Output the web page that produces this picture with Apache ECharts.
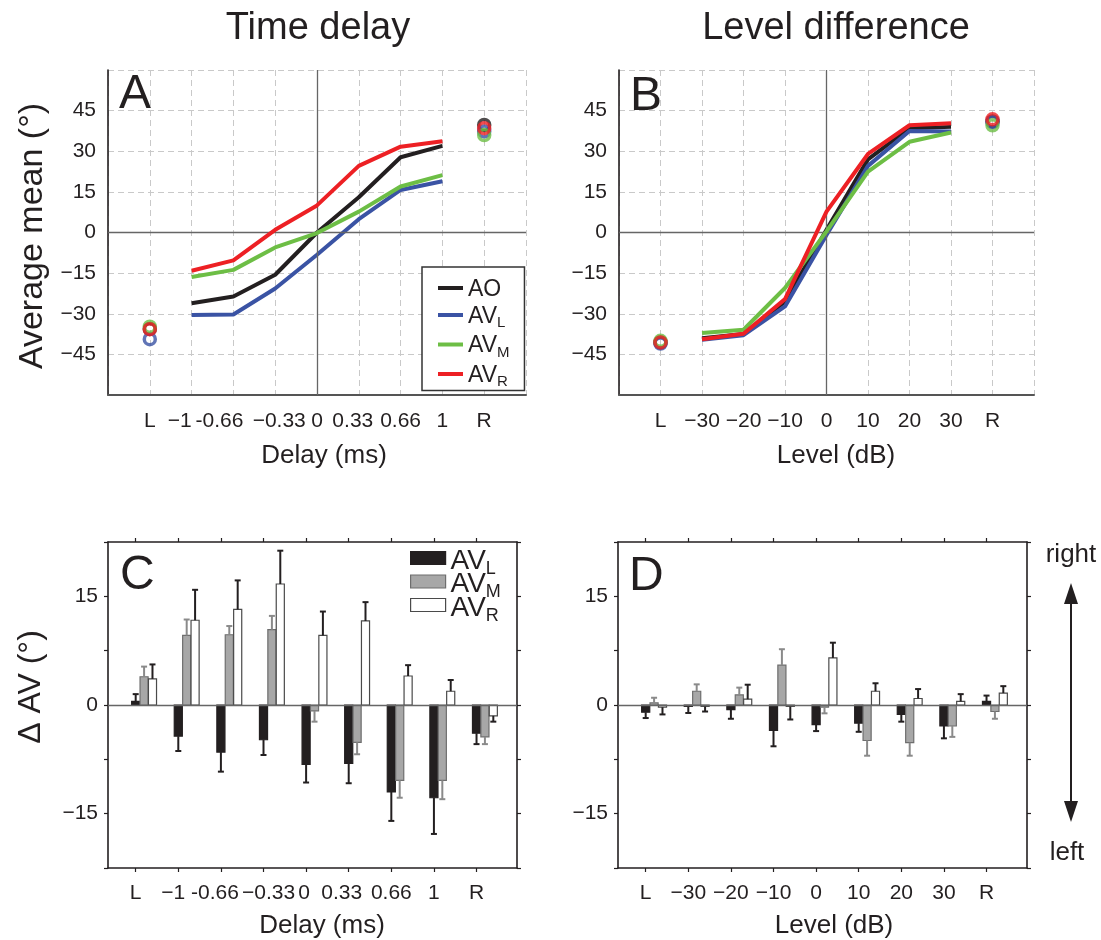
<!DOCTYPE html>
<html>
<head>
<meta charset="utf-8">
<script src="https://cdn.jsdelivr.net/npm/echarts@6/dist/echarts.min.js"></script>
<style>
  html, body { margin: 0; background: #fff; }
  #chart { width: 1101px; height: 940px; }
</style>
</head>
<body>
<div id="chart"></div>
<script>
const FONT = '"Liberation Sans", Arial, sans-serif';
const INK = '#231f20';

// tick labels
const delayLabels = ['L', '−1', '-0.66', '−0.33', '0', '0.33', '0.66', '1', 'R'];
const levelLabels = ['L', '−30', '−20', '−10', '0', '10', '20', '30', 'R'];
const meanTicks = [45, 30, 15, 0, -15, -30, -45];
const deltaTicks = [15, 0, -15];

// A: average mean (deg) for delays -1 .. 1 ms, and the L / R references
const delayAO  = [-26.1, -23.6, -15.6, 0.0, 13.0, 27.8, 32.0];
const delayAVL = [-30.5, -30.3, -20.7, -8.2, 4.9, 15.7, 18.9];
const delayAVM = [-16.4, -13.8, -5.5, -0.2, 7.7, 17.0, 21.2];
const delayAVR = [-14.1, -10.3, 1.0, 10.0, 24.6, 31.7, 33.7];
const delayEndsAO  = [-35.6, 39.7];
const delayEndsAVL = [-39.4, 37.3];
const delayEndsAVM = [-34.8, 36.0];
const delayEndsAVR = [-35.7, 38.5];

// B: average mean (deg) for levels -30 .. 30 dB, and the L / R references
const levelAO  = [-39.0, -37.5, -25.5, 1.0, 27.0, 38.5, 39.0];
const levelAVL = [-39.6, -37.9, -27.3, -0.9, 24.6, 37.5, 37.3];
const levelAVM = [-37.1, -35.9, -20.5, 0.4, 22.5, 33.5, 36.9];
const levelAVR = [-39.4, -37.4, -24.6, 7.7, 29.0, 39.6, 40.3];
const levelEndsAO  = [-40.6, 41.0];
const levelEndsAVL = [-41.0, 40.8];
const levelEndsAVM = [-40.0, 39.6];
const levelEndsAVR = [-40.6, 41.8];

// C: delta AV (deg) per delay, with one-sided error
const dDelayAVL = [0.5, -4.3, -6.5, -4.8, -8.2, -8.05, -12.0, -12.8, -3.9];
const dDelayAVM = [3.9, 9.6, 9.7, 10.4, -0.8, -5.15, -10.4, -10.4, -4.4];
const dDelayAVR = [3.6, 11.7, 13.2, 16.7, 9.6, 11.6, 4.0, 1.9, -1.5];
const eDelayAVL = [1.0, 2.05, 2.7, 2.1, 2.5, 2.75, 4.0, 5.0, 1.5];
const eDelayAVM = [1.4, 2.2, 1.2, 1.9, 1.5, 1.65, 2.4, 2.6, 1.0];
const eDelayAVR = [2.0, 4.2, 4.0, 4.6, 3.3, 2.6, 1.5, 1.55, 0.8];

// D: delta AV (deg) per level, with one-sided error
const dLevelAVL = [-1.0, -0.2, -0.65, -3.5, -2.7, -2.5, -1.3, -2.9, 0.5];
const dLevelAVM = [0.3, 1.9, 1.4, 5.5, -0.3, -4.9, -5.2, -2.9, -0.9];
const dLevelAVR = [-0.3, -0.2, 0.8, -0.2, 6.5, 1.9, 0.9, 0.5, 1.65];
const eLevelAVL = [0.8, 0.9, 1.25, 2.2, 0.9, 1.2, 1.0, 1.7, 0.8];
const eLevelAVM = [0.7, 0.95, 1.0, 2.2, 0.85, 2.1, 1.8, 1.5, 1.0];
const eLevelAVR = [1.0, 0.7, 2.0, 1.8, 2.1, 1.1, 1.3, 1.0, 0.95];

const lineNames = ['AO', 'AVL', 'AVM', 'AVR'];
const lineColors = ['#231f20', '#3a53a4', '#6dbe45', '#ed2024'];
const barNames = ['dAVL', 'dAVM', 'dAVR'];
const barFill = ['#231f20', '#a7a7a7', '#ffffff'];
const barEdge = ['#231f20', '#6e6e6e', '#4a4a4a'];
const errColor = ['#231f20', '#8a8a8a', '#231f20'];
const BAR_STEP = 0.197, BAR_W = 0.19, CAP = 3;

// small horizontal nudges of crowded delay labels (px, negative = left)
const nudgeTop = [0, -12, -14, 4, 0, -6, 0, 0, 0];
const nudgeBottom = [0, -5, -6, 5, -2, -7, 0, 0, 0];

const minus = v => String(v).replace('-', '−');

const chart = echarts.init(document.getElementById('chart'));

const dashed = { show: true, lineStyle: { type: [6, 4], color: '#c9c9c9', width: 1 } };

function nudgeRich(nudge) {
  const rich = {};
  nudge.forEach((n, i) => {
    rich['n' + i] = { fontSize: 21, fontFamily: FONT, color: INK,
      padding: n < 0 ? [0, -2 * n, 0, 0] : [0, 0, 0, 2 * n] };
  });
  return rich;
}
function labelFmt(labels, nudge) {
  return v => {
    if (labels[v] === undefined) return '';
    return nudge ? '{n' + v + '|' + labels[v] + '}' : labels[v];
  };
}

function meanX(gi, labels, nudge) {
  return {
    type: 'value', gridIndex: gi, min: -1, max: 9, interval: 1,
    axisLine: { show: true, onZero: false, lineStyle: { color: '#555', width: 2 } },
    axisTick: { show: false },
    axisLabel: { color: INK, fontFamily: FONT, fontSize: 21, margin: 16,
      formatter: labelFmt(labels, nudge), rich: nudge ? nudgeRich(nudge) : {} },
    splitLine: dashed
  };
}
function meanY(gi) {
  return {
    type: 'value', gridIndex: gi, min: -60, max: 60, interval: 15,
    axisLine: { show: true, onZero: false, lineStyle: { color: INK, width: 1.6 } },
    axisTick: { show: false },
    axisLabel: { color: INK, fontFamily: FONT, fontSize: 21, margin: 12,
      formatter: v => meanTicks.includes(v) ? minus(v) : '' },
    splitLine: dashed
  };
}
const catTicks = [0, 1, 2, 3, 4, 5, 6, 7, 8];
function deltaX(gi, labels, top, nudge) {
  return {
    type: 'value', gridIndex: gi, min: -0.65, max: 8.95, position: top ? 'top' : 'bottom',
    axisLine: { show: true, onZero: false, lineStyle: { color: INK, width: 1.6 } },
    axisTick: { show: true, inside: false, length: 4, customValues: catTicks, lineStyle: { color: INK, width: 1.2 } },
    axisLabel: { show: !top, customValues: catTicks, color: INK, fontFamily: FONT, fontSize: 21, margin: 15,
      formatter: labelFmt(labels, nudge), rich: nudge ? nudgeRich(nudge) : {} },
    splitLine: { show: false }
  };
}
function deltaY(gi, right) {
  return {
    type: 'value', gridIndex: gi, min: -22.5, max: 22.5, interval: 7.5, position: right ? 'right' : 'left',
    axisLine: { show: true, onZero: false, lineStyle: { color: INK, width: 1.6 } },
    axisTick: { show: true, inside: false, length: 4, lineStyle: { color: INK, width: 1.2 } },
    axisLabel: { show: !right, color: INK, fontFamily: FONT, fontSize: 21, margin: 10,
      formatter: v => deltaTicks.includes(v) ? minus(v) : '' },
    splitLine: { show: false }
  };
}

function zeroLines(xi, yi, data) {
  return {
    type: 'line', xAxisIndex: xi, yAxisIndex: yi, data: [], silent: true, z: 1,
    markLine: { symbol: 'none', silent: true, label: { show: false }, animation: false,
      lineStyle: { color: '#666', width: 1.3, type: 'solid' }, data: data }
  };
}

function meanSeries(ai, lines, ends) {
  const out = [];
  lines.forEach((vals, k) => {
    out.push({
      type: 'line', name: lineNames[k], xAxisIndex: ai, yAxisIndex: ai,
      data: vals.map((v, j) => [j + 1, v]),
      showSymbol: false, lineStyle: { width: 4, color: lineColors[k] },
      itemStyle: { color: lineColors[k] }, z: 3 + k
    });
  });
  ends.forEach((vals, k) => {
    out.push({
      type: 'scatter', name: lineNames[k], xAxisIndex: ai, yAxisIndex: ai,
      data: [[0, vals[0]], [8, vals[1]]],
      symbol: 'circle', symbolSize: 11,
      itemStyle: { color: 'rgba(0,0,0,0)', borderColor: lineColors[k], borderWidth: 3.5 },
      z: 8 + k
    });
  });
  return out;
}

function barSeries(k, vals, errs, xi, yi) {
  return {
    type: 'custom', name: barNames[k], xAxisIndex: xi, yAxisIndex: yi, z: 3,
    data: vals.map((v, i) => [i, v, errs[i]]),
    encode: { x: 0, y: 1 },
    renderItem: (params, api) => {
      const x = api.value(0) + k * BAR_STEP;
      const v = api.value(1), e = api.value(2);
      const base = api.coord([x, 0]);
      const top = api.coord([x, v]);
      const end = api.coord([x, v < 0 ? v - e : v + e]);
      const w = api.size([BAR_W, 0])[0];
      return {
        type: 'group',
        children: [
          { type: 'rect',
            shape: { x: base[0] - w / 2, y: Math.min(base[1], top[1]), width: w, height: Math.abs(top[1] - base[1]) },
            style: { fill: barFill[k], stroke: barEdge[k], lineWidth: 1.2 } },
          { type: 'line', shape: { x1: top[0], y1: top[1], x2: end[0], y2: end[1] },
            style: { stroke: errColor[k], lineWidth: 2 } },
          { type: 'line', shape: { x1: end[0] - CAP, y1: end[1], x2: end[0] + CAP, y2: end[1] },
            style: { stroke: errColor[k], lineWidth: 2 } }
        ]
      };
    }
  };
}

const subFmt = name => {
  const n = name.replace(/^d/, '');
  return n === 'AO' ? '{b|AO}' : '{b|AV}{s|' + n.slice(2) + '}';
};

const option = {
  animation: false,
  backgroundColor: '#fff',
  grid: [
    { left: 108, top: 70, width: 418, height: 325 },
    { left: 619, top: 70, width: 415, height: 325 },
    { left: 108, top: 542, width: 409, height: 326 },
    { left: 618, top: 542, width: 409, height: 326 }
  ],
  xAxis: [
    meanX(0, delayLabels, nudgeTop),
    meanX(1, levelLabels, null),
    deltaX(2, delayLabels, false, nudgeBottom),
    deltaX(2, delayLabels, true, null),
    deltaX(3, levelLabels, false, null),
    deltaX(3, levelLabels, true, null)
  ],
  yAxis: [
    meanY(0),
    meanY(1),
    deltaY(2, false),
    deltaY(2, true),
    deltaY(3, false),
    deltaY(3, true)
  ],
  legend: [
    {
      data: lineNames, orient: 'vertical', left: 422, top: 267,
      icon: 'rect', itemWidth: 25, itemHeight: 4, itemGap: 4,
      backgroundColor: '#fff', borderColor: '#333', borderWidth: 1.5, borderRadius: 0,
      padding: [11, 15, 1, 16], selectedMode: false,
      formatter: subFmt,
      textStyle: { color: INK, fontFamily: FONT, rich: {
        b: { fontSize: 23, lineHeight: 20, verticalAlign: 'top', fontFamily: FONT, color: INK },
        s: { fontSize: 15, lineHeight: 10, verticalAlign: 'top', padding: [10.5, 0, 0, 0], fontFamily: FONT, color: INK }
      } }
    },
    {
      data: barNames.map((n, k) => ({ name: n, itemStyle: { color: barFill[k], borderColor: barEdge[k], borderWidth: 1.2 } })),
      orient: 'vertical', left: 410, top: 547,
      icon: 'rect', itemWidth: 35, itemHeight: 13, itemGap: -7.5,
      padding: 0, selectedMode: false,
      formatter: subFmt,
      textStyle: { color: INK, fontFamily: FONT, rich: {
        b: { fontSize: 28, lineHeight: 22, verticalAlign: 'top', fontFamily: FONT, color: INK },
        s: { fontSize: 18, lineHeight: 10, verticalAlign: 'top', padding: [13, 0, 0, 0], fontFamily: FONT, color: INK }
      } }
    }
  ],
  graphic: [
    { type: 'text', style: { text: 'Time delay', x: 318, y: 29, font: '38px ' + FONT, fill: INK, textAlign: 'center', textVerticalAlign: 'middle' } },
    { type: 'text', style: { text: 'Level difference', x: 836, y: 29, font: '38px ' + FONT, fill: INK, textAlign: 'center', textVerticalAlign: 'middle' } },
    { type: 'text', style: { text: 'A', x: 119, y: 95, font: '48px ' + FONT, fill: INK, textAlign: 'left', textVerticalAlign: 'middle' } },
    { type: 'text', style: { text: 'B', x: 630, y: 97, font: '48px ' + FONT, fill: INK, textAlign: 'left', textVerticalAlign: 'middle' } },
    { type: 'text', style: { text: 'C', x: 120, y: 576, font: '48px ' + FONT, fill: INK, textAlign: 'left', textVerticalAlign: 'middle' } },
    { type: 'text', style: { text: 'D', x: 629, y: 577, font: '48px ' + FONT, fill: INK, textAlign: 'left', textVerticalAlign: 'middle' } },
    { type: 'text', x: 33, y: 236, rotation: Math.PI / 2,
      style: { text: 'Average mean (°)', font: '34px ' + FONT, fill: INK, textAlign: 'center', textVerticalAlign: 'middle' } },
    { type: 'text', x: 31, y: 687, rotation: Math.PI / 2,
      style: { text: 'Δ AV (°)', font: '32px ' + FONT, fill: INK, textAlign: 'center', textVerticalAlign: 'middle' } },
    { type: 'text', style: { text: 'Delay (ms)', x: 324, y: 456, font: '26px ' + FONT, fill: INK, textAlign: 'center', textVerticalAlign: 'middle' } },
    { type: 'text', style: { text: 'Level (dB)', x: 836, y: 456, font: '26px ' + FONT, fill: INK, textAlign: 'center', textVerticalAlign: 'middle' } },
    { type: 'text', style: { text: 'Delay (ms)', x: 322, y: 926, font: '26px ' + FONT, fill: INK, textAlign: 'center', textVerticalAlign: 'middle' } },
    { type: 'text', style: { text: 'Level (dB)', x: 834, y: 926, font: '26px ' + FONT, fill: INK, textAlign: 'center', textVerticalAlign: 'middle' } },
    { type: 'text', style: { text: 'right', x: 1071, y: 555, font: '26px ' + FONT, fill: INK, textAlign: 'center', textVerticalAlign: 'middle' } },
    { type: 'text', style: { text: 'left', x: 1067, y: 853, font: '26px ' + FONT, fill: INK, textAlign: 'center', textVerticalAlign: 'middle' } },
    { type: 'line', shape: { x1: 1071, y1: 598, x2: 1071, y2: 806 }, style: { stroke: INK, lineWidth: 2 } },
    { type: 'polygon', shape: { points: [[1071, 583], [1064, 604], [1078, 604]] }, style: { fill: INK } },
    { type: 'polygon', shape: { points: [[1071, 822], [1064, 801], [1078, 801]] }, style: { fill: INK } }
  ],
  series: [
    zeroLines(0, 0, [{ yAxis: 0 }, { xAxis: 4 }]),
    zeroLines(1, 1, [{ yAxis: 0 }, { xAxis: 4 }]),
    zeroLines(2, 2, [{ yAxis: 0 }]),
    zeroLines(4, 4, [{ yAxis: 0 }]),
    ...meanSeries(0, [delayAO, delayAVL, delayAVM, delayAVR], [delayEndsAO, delayEndsAVL, delayEndsAVM, delayEndsAVR]),
    ...meanSeries(1, [levelAO, levelAVL, levelAVM, levelAVR], [levelEndsAO, levelEndsAVL, levelEndsAVM, levelEndsAVR]),
    barSeries(0, dDelayAVL, eDelayAVL, 2, 2),
    barSeries(1, dDelayAVM, eDelayAVM, 2, 2),
    barSeries(2, dDelayAVR, eDelayAVR, 2, 2),
    barSeries(0, dLevelAVL, eLevelAVL, 4, 4),
    barSeries(1, dLevelAVM, eLevelAVM, 4, 4),
    barSeries(2, dLevelAVR, eLevelAVR, 4, 4)
  ]
};

chart.setOption(option);
</script>
</body>
</html>
